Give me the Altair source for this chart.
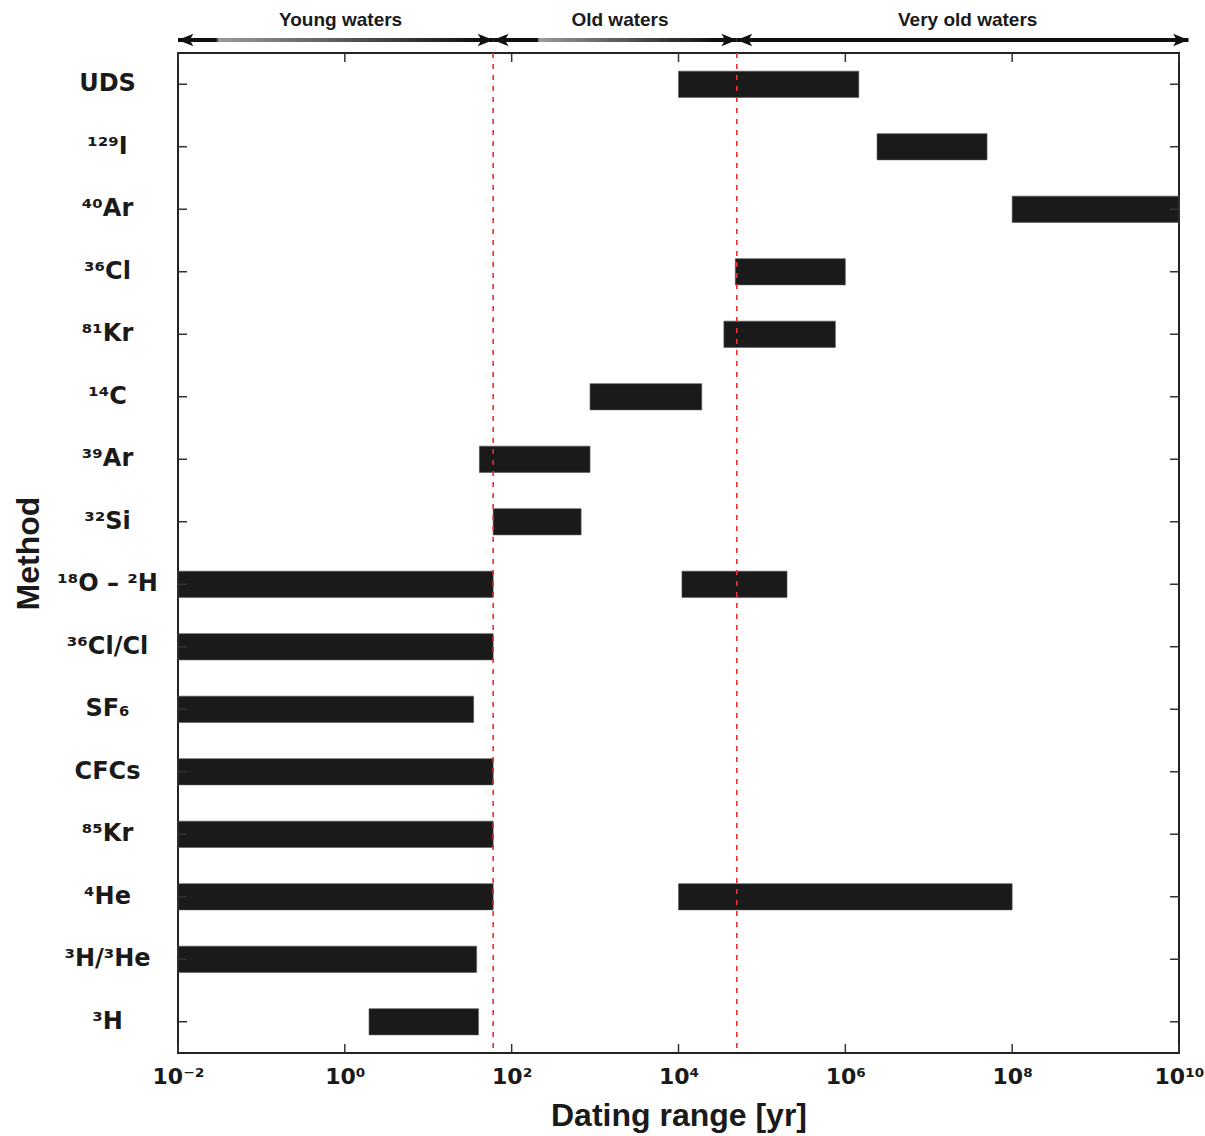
import altair as alt
import pandas as pd

# Dating methods, top to bottom
methods = ["UDS", "¹²⁹I", "⁴⁰Ar", "³⁶Cl", "⁸¹Kr", "¹⁴C", "³⁹Ar", "³²Si",
           "¹⁸O – ²H", "³⁶Cl/Cl", "SF₆", "CFCs", "⁸⁵Kr", "⁴He", "³H/³He", "³H"]

# Dating ranges in years (one row per bar; some methods cover two ranges)
bar_method = ["UDS", "¹²⁹I", "⁴⁰Ar", "³⁶Cl", "⁸¹Kr", "¹⁴C", "³⁹Ar", "³²Si",
              "¹⁸O – ²H", "¹⁸O – ²H", "³⁶Cl/Cl", "SF₆", "CFCs", "⁸⁵Kr",
              "⁴He", "⁴He", "³H/³He", "³H"]
bar_start = [1e4, 2.4e6, 1e8, 4.8e4, 3.5e4, 870, 41, 60,
             1e-2, 1.1e4, 1e-2, 1e-2, 1e-2, 1e-2,
             1e-2, 1e4, 1e-2, 1.95]
bar_end = [1.45e6, 5e7, 1e10, 1e6, 7.6e5, 1.9e4, 870, 680,
           60, 2e5, 60, 35, 60, 60,
           60, 1e8, 38, 40]

# Water-age classes and their boundaries (years)
region_names = ["Young waters", "Old waters", "Very old waters"]
region_start = [1e-2, 60, 5e4]
region_end = [60, 5e4, 1.3e10]
boundaries = [60, 5e4]

# Axis ticks
tick_values = [1e-2, 1e0, 1e2, 1e4, 1e6, 1e8, 1e10]
tick_labels = ["10⁻²", "10⁰", "10²", "10⁴", "10⁶", "10⁸", "10¹⁰"]

W, H = 1001, 1000
FONT = "Liberation Sans"
SUP_FONT = "DejaVu Sans"
INK = "#1a1a1a"
TICK_LEN = 9
X_TITLE = "Dating range [yr]"
Y_TITLE = "Method"

bars_df = pd.DataFrame({"method": bar_method, "start": bar_start, "end": bar_end})
methods_df = pd.DataFrame({"method": methods})
ticks_df = pd.DataFrame({"v": tick_values})
bound_df = pd.DataFrame({"b": boundaries})
regions_df = pd.DataFrame({
    "name": region_names,
    "start": region_start,
    "end": region_end,
    "mid": [(a * b) ** 0.5 for a, b in zip(region_start, region_end)],
})

label_expr = ""
for v, lab in zip(tick_values, tick_labels):
    label_expr += f"datum.value < {v * 3} ? '{lab}' : "
label_expr += "''"

xscale = alt.Scale(type="log", domain=[1e-2, 1e10], nice=False)
yscale = alt.Scale(paddingInner=0.58, paddingOuter=0.29)

x_axis = alt.Axis(values=tick_values, labelExpr=label_expr,
                  domain=False, ticks=False, grid=False,
                  labelFlush=False, labelOverlap=False, labelBound=False,
                  labelFont=SUP_FONT, labelFontSize=22, labelFontWeight="bold",
                  labelColor=INK, labelPadding=13,
                  titleFont=FONT, titleFontSize=32, titleFontWeight="bold",
                  titleColor=INK, titleX=W / 2, titleY=72,
                  titleBaseline="alphabetic", titleAlign="center")
y_axis = alt.Axis(domain=False, ticks=False, grid=False,
                  labelFont=SUP_FONT, labelFontSize=24, labelFontWeight="bold",
                  labelColor=INK, labelAlign="center", labelBaseline="middle",
                  labelPadding=71,
                  titleFont=FONT, titleFontSize=32, titleFontWeight="bold",
                  titleColor=INK, titleX=-150, titleY=H / 2,
                  titleAlign="center", titleBaseline="middle", titleAngle=270)


def xq(field):
    return alt.X(f"{field}:Q", scale=xscale, axis=x_axis, title=X_TITLE)


def yn():
    return alt.Y("method:N", sort=methods, scale=yscale, axis=y_axis, title=Y_TITLE)


bars = alt.Chart(bars_df).mark_bar(color=INK, stroke="#555", strokeWidth=0.6).encode(
    x=xq("start"), x2="end:Q", y=yn())

# Inward ticks on all four sides of the frame
tick_style = dict(color="#333", strokeWidth=1.5)
yticks_left = alt.Chart(methods_df).mark_rule(**tick_style).encode(
    y=yn(), x=alt.value(0), x2=alt.value(TICK_LEN))
yticks_right = alt.Chart(methods_df).mark_rule(**tick_style).encode(
    y=yn(), x=alt.value(W - TICK_LEN), x2=alt.value(W))
xticks_bottom = alt.Chart(ticks_df).mark_rule(**tick_style).encode(
    x=xq("v"), y=alt.value(H - TICK_LEN), y2=alt.value(H))
xticks_top = alt.Chart(ticks_df).mark_rule(**tick_style).encode(
    x=xq("v"), y=alt.value(0), y2=alt.value(TICK_LEN))

# Dashed class boundaries
bounds = alt.Chart(bound_df).mark_rule(color="#e53030", strokeDash=[5, 6], strokeWidth=1.6).encode(
    x=xq("b"))

# Double-headed arrows above the plot marking each water class
ARROW_Y = -13
shaft_fills = [
    alt.Gradient(gradient="linear", stops=[
        alt.GradientStop(color="#111", offset=0), alt.GradientStop(color="#111", offset=0.12),
        alt.GradientStop(color="#9a9a9a", offset=0.13), alt.GradientStop(color="#111", offset=0.95),
        alt.GradientStop(color="#111", offset=1)]),
    alt.Gradient(gradient="linear", stops=[
        alt.GradientStop(color="#111", offset=0), alt.GradientStop(color="#111", offset=0.18),
        alt.GradientStop(color="#9a9a9a", offset=0.19), alt.GradientStop(color="#111", offset=0.9),
        alt.GradientStop(color="#111", offset=1)]),
    "#111",
]
shafts = []
for i, fill in enumerate(shaft_fills):
    shafts.append(
        alt.Chart(regions_df.iloc[[i]]).mark_rect(fill=fill).encode(
            x=xq("start"), x2="end:Q",
            y=alt.value(ARROW_Y - 2), y2=alt.value(ARROW_Y + 2))
    )

head_right = "M0,0L-1.5,-0.6L-1.15,0L-1.5,0.6Z"
head_left = "M0,0L1.5,-0.6L1.15,0L1.5,0.6Z"
heads_l = alt.Chart(regions_df).mark_point(shape=head_left, filled=True, size=420,
                                           color="#111", opacity=1).encode(
    x=xq("start"), y=alt.value(ARROW_Y))
heads_r = alt.Chart(regions_df).mark_point(shape=head_right, filled=True, size=420,
                                           color="#111", opacity=1).encode(
    x=xq("end"), y=alt.value(ARROW_Y))

region_text = alt.Chart(regions_df).mark_text(
    font=FONT, fontSize=19, fontWeight="bold", color=INK, baseline="middle", dx=5
).encode(x=xq("mid"), y=alt.value(-33), text="name:N")

chart = alt.layer(
    bars, bounds, yticks_left, yticks_right, xticks_bottom, xticks_top,
    *shafts, heads_l, heads_r, region_text,
).properties(
    width=W, height=H,
    autosize=alt.AutoSizeParams(type="none"),
    padding={"left": 178, "top": 53, "right": 26, "bottom": 83},
    background="white",
).configure_view(stroke="#222", strokeWidth=2)

chart.save("out.html", embed_options={"renderer": "svg", "actions": False})
